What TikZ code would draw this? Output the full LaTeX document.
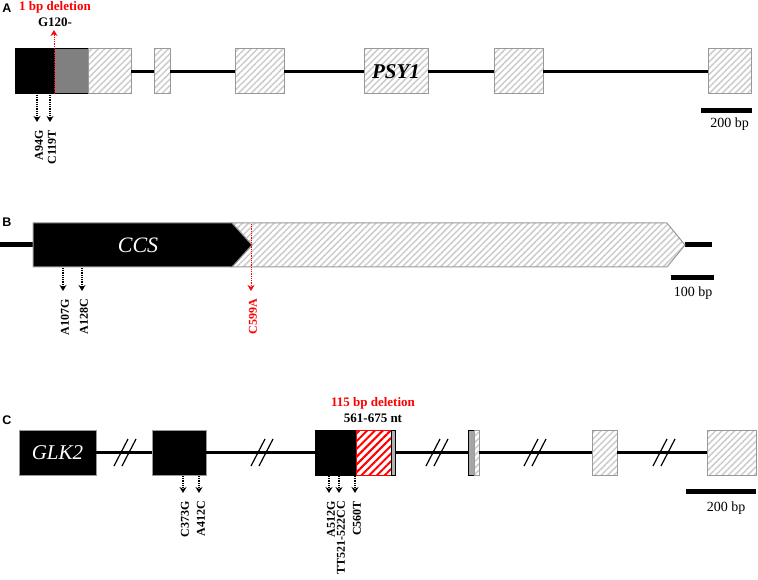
\documentclass[tikz,border=0pt]{standalone}
\usepackage{fontspec}
\setmainfont{Liberation Serif}
\newfontfamily\panelfont{Liberation Sans}
\usepackage{tikz}
\usetikzlibrary{arrows.meta,positioning,calc,patterns.meta}

\begin{document}
\begin{tikzpicture}[x=1pt, y=-1pt,
    exon/.style={rectangle, draw=gray!80, line width=1pt, inner sep=0pt, outer sep=0pt, minimum height=45pt},
    hatched/.style={exon, pattern={Lines[angle=45,distance=4.5pt,line width=1.5pt]}, pattern color=gray!40},
    coding/.style={exon, fill=black},
    redhatch/.style={exon, draw=red, pattern={Lines[angle=45,distance=5.5pt,line width=2pt]}, pattern color=red},
    intron/.style={line width=3.5pt},
    mut/.style={->, >={Stealth[length=6pt,width=7pt]}, line width=1.3pt, dash pattern=on 1pt off 0.8pt},
    mutlab/.style={font=\fontsize{12}{14}\selectfont\bfseries, rotate=90, anchor=east, inner sep=0pt},
    toplab/.style={font=\fontsize{13}{15}\selectfont\bfseries, inner sep=0pt},
    gene/.style={font=\fontsize{21}{24}\selectfont\itshape, text=white},
    panel/.style={font=\fontsize{12.5}{14}\selectfont\panelfont\bfseries, inner sep=0pt},
    scalebar/.style={line width=5pt},
    scalelab/.style={font=\fontsize{14}{16}\selectfont, inner sep=0pt},
    brk/.style={line width=1.2pt}
]
\useasboundingbox (0,0) rectangle (758,580);

% Panel A: PSY1
\node[panel] (pA) at (7,8) {A};
\node[coding, draw=black, minimum width=39pt] (a1) at (34.5,71.5) {};
\node[exon, fill=gray, draw=black, minimum width=34pt, right=0pt of a1] (a2) {};
\node[hatched, minimum width=43pt, right=0pt of a2] (a3) {};
\node[hatched, minimum width=16pt] (a4) at (162,71.5) {};
\node[hatched, minimum width=49pt] (a5) at (259.5,71.5) {};
\node[hatched, minimum width=64pt, font=\fontsize{21}{24}\selectfont\bfseries\itshape] (a6) at (396,71.5) {PSY1};
\node[hatched, minimum width=49pt] (a7) at (518.5,71.5) {};
\node[hatched, minimum width=43pt] (a8) at (729.5,71.5) {};

\foreach \u/\v in {a3/a4,a4/a5,a5/a6,a6/a7,a7/a8}
    \draw[intron] (\u) -- (\v);

% 1 bp deletion
\node[toplab, text=red] (del1) at (55,7) {1 bp deletion};
\node[toplab] (g120) at (55,22) {G120-};
\coordinate (d1s) at (54,94);
\coordinate (d1t) at (54,30);
\draw[mut, red, line width=1pt] (d1s) -- (d1t);

% SNPs A
\foreach \x/\lab in {37/A94G, 50/C119T} {
    \coordinate (top\x) at (\x,95);
    \coordinate (tip\x) at (\x,122);
    \draw[mut] (top\x) -- (tip\x);
    \node[mutlab] (lab\x) at (\x+2,130) {\lab};
}

% scale bar A
\coordinate (sa1) at (701,111);
\coordinate (sa2) at (752,111);
\draw[scalebar] (sa1) -- (sa2);
\node[scalelab] (sa) at (729.5,124) {200 bp};

% Panel B: CCS
\node[panel] (pB) at (7,222) {B};
\coordinate (b0) at (0,245);
\coordinate (b1) at (33,245);
\coordinate (b2) at (685,245);
\coordinate (b3) at (712,245);
\draw[intron, line width=5pt] (b0) -- (b1);
\draw[intron, line width=5pt] (b2) -- (b3);
\draw[gray!80, line width=1pt, pattern={Lines[angle=45,distance=4.5pt,line width=1.5pt]}, pattern color=gray!40]
    (232,223) -- (667,223) -- (b2) -- (667,267) -- (232,267) -- (252,245) -- cycle;
\draw[gray!80, line width=1pt, fill=black]
    (33,223) -- (232,223) -- (252,245) -- (232,267) -- (33,267) -- cycle;
\node[gene, font=\fontsize{22}{24}\selectfont\itshape] (ccs) at (138,245) {CCS};

% SNPs B
\foreach \x/\lab in {63/A107G, 82/A128C} {
    \coordinate (top\x) at (\x,268);
    \coordinate (tip\x) at (\x,291);
    \draw[mut] (top\x) -- (tip\x);
    \node[mutlab] (lab\x) at (\x+2,299) {\lab};
}
\coordinate (c599s) at (251,224);
\coordinate (c599t) at (251,291);
\draw[mut, red, line width=1pt] (c599s) -- (c599t);
\node[mutlab, text=red] (c599) at (253,299) {C599A};

% scale bar B
\coordinate (sb1) at (671,278);
\coordinate (sb2) at (714,278);
\draw[scalebar] (sb1) -- (sb2);
\node[scalelab] (sb) at (693,293) {100 bp};

% Panel C: GLK2
\node[panel] (pC) at (7,420) {C};
\node[coding, minimum width=77pt] (c1) at (57.5,452.5) {};
\node[gene] at (c1) {GLK2};
\node[coding, minimum width=54pt] (c2) at (179,452.5) {};
\node[coding, draw=black, minimum width=41pt] (c3) at (335.5,452.5) {};
\node[redhatch, minimum width=35pt, right=0pt of c3] (c3r) {};
\node[exon, fill=gray!60, draw=black, minimum width=4pt, right=0pt of c3r] (c3g) {};
\node[exon, fill=gray!70, draw=black, minimum width=6pt] (c4) at (471,452.5) {};
\node[hatched, minimum width=5pt, right=0pt of c4] (c4h) {};
\node[hatched, minimum width=25pt] (c5) at (604.5,452.5) {};
\node[hatched, minimum width=49pt] (c6) at (731.5,452.5) {};

\foreach \u/\v in {c1/c2,c2/c3,c3g/c4,c4h/c5,c5/c6}
    \draw[intron] (\u) -- (\v);

% breaks
\foreach \bx in {125,262,437,535,664} {
    \draw[brk] (\bx-11,466) -- (\bx+3,439);
    \draw[brk] (\bx-3,466) -- (\bx+11,439);
}

% 115 bp deletion
\node[toplab, text=red] (del115) at (373,403) {115 bp deletion};
\node[toplab] (nt) at (373,418) {561-675 nt};

% SNPs C
\foreach \x/\lab in {183/C373G, 199/A412C, 329/A512G, 339/TT521-522CC, 355/C560T} {
    \coordinate (top\x) at (\x,476);
    \coordinate (tip\x) at (\x,493);
    \draw[mut] (top\x) -- (tip\x);
    \node[mutlab] (lab\x) at (\x+2,501) {\lab};
}

% scale bar C
\coordinate (sc1) at (686,491);
\coordinate (sc2) at (756,491);
\draw[scalebar] (sc1) -- (sc2);
\node[scalelab] (sc) at (726,508) {200 bp};

\end{tikzpicture}
\end{document}
